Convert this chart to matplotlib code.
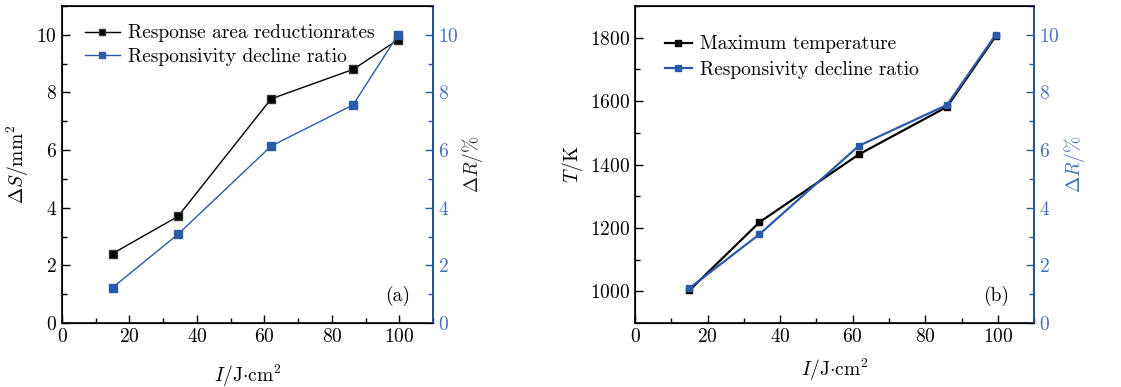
import numpy as np
import matplotlib
matplotlib.use('Agg')
import matplotlib.pyplot as plt
from matplotlib.ticker import MultipleLocator

plt.rcParams['font.family'] = 'serif'
plt.rcParams['font.serif'] = ['cmr10', 'DejaVu Serif']
plt.rcParams['mathtext.fontset'] = 'cm'
plt.rcParams['axes.formatter.use_mathtext'] = True
plt.rcParams['font.size'] = 14

# fluence I (J/cm^2)
fluence_a = [15.0, 34.4, 62.0, 86.3, 99.6]
fluence_b = [15.0, 34.3, 61.7, 86.0, 99.4]

# panel (a): response area reduction, responsivity decline
area_drop = [2.41, 3.70, 7.78, 8.80, 9.83]
resp_drop_a = [1.23, 3.08, 6.14, 7.57, 10.0]

# panel (b): maximum temperature, responsivity decline
max_temp = [1003, 1218, 1432, 1582, 1805]
resp_drop_b = [1.21, 3.08, 6.15, 7.57, 10.0]

blue = '#2b5aa8'
blue_txt = '#4470bb'

fig = plt.figure(figsize=(11.21, 3.87), dpi=100)
ax_a = fig.add_axes([0.0553, 0.1654, 0.331, 0.819])
ax_b = fig.add_axes([0.5665, 0.1654, 0.356, 0.819])


def style_axes(ax, ax2, xpad):
    ax.set_xlim(0, 110)
    ax.xaxis.set_major_locator(MultipleLocator(20))
    ax.xaxis.set_minor_locator(MultipleLocator(10))
    ax.tick_params(which='both', direction='in', top=False, right=False)
    ax.tick_params(which='major', length=6, width=1)
    ax.tick_params(which='minor', length=3.5, width=1)
    for s in ax.spines.values():
        s.set_linewidth(1.2)
    ax.set_xlabel(r'$I/\mathrm{J{\cdot}cm^2}$', labelpad=xpad)
    ax2.set_ylim(0, 11)
    ax2.yaxis.set_major_locator(MultipleLocator(2))
    ax2.yaxis.set_minor_locator(MultipleLocator(1))
    ax2.tick_params(which='both', direction='in', colors=blue, labelcolor=blue_txt)
    ax2.tick_params(which='major', length=6, width=1)
    ax2.tick_params(which='minor', length=3.5, width=1)
    ax2.spines['right'].set_color(blue)
    ax2.spines['right'].set_linewidth(1.2)


# (a)
ax_a2 = ax_a.twinx()
style_axes(ax_a, ax_a2, 12)
ax_a.set_ylim(0, 11)
ax_a.yaxis.set_major_locator(MultipleLocator(2))
ax_a.yaxis.set_minor_locator(MultipleLocator(1))
la, = ax_a.plot(fluence_a, area_drop, color='black', lw=1, marker='s', ms=6,
                mec='#333333', mfc='black', label='Response area reductionrates')
lb, = ax_a2.plot(fluence_a, resp_drop_a, color=blue, lw=1, marker='s', ms=6,
                 mec=blue, mfc=blue, label='Responsivity decline ratio')
ax_a.set_ylabel(r'$\Delta S/\mathrm{mm}^2$')
ax_a2.set_ylabel(r'$\Delta R/\%$', color='#222222', labelpad=1)
ax_a.legend(handles=[la, lb], loc='upper left', frameon=False,
            bbox_to_anchor=(0.025, 0.985), handlelength=1.8, borderaxespad=0.3,
            labelspacing=0.3, handletextpad=0.4, markerscale=0.8)
ax_a.text(0.905, 0.085, '(a)', transform=ax_a.transAxes, ha='center', va='center')

# (b)
ax_b2 = ax_b.twinx()
style_axes(ax_b, ax_b2, 8)
ax_b.set_ylim(900, 1900)
ax_b.yaxis.set_major_locator(MultipleLocator(200))
ax_b.yaxis.set_minor_locator(MultipleLocator(100))
lc, = ax_b.plot(fluence_b, max_temp, color='black', lw=1.6, marker='s', ms=5,
                mec='black', mfc='black', label='Maximum temperature')
ld, = ax_b2.plot(fluence_b, resp_drop_b, color=blue, lw=1.6, marker='s', ms=5,
                 mec=blue, mfc=blue, label='Responsivity decline ratio')
ax_b.set_ylabel(r'$T/\mathrm{K}$')
ax_b2.set_ylabel(r'$\Delta R/\%$', color=blue_txt, labelpad=2)
ax_b.legend(handles=[lc, ld], loc='upper left', frameon=False,
            bbox_to_anchor=(0.04, 0.95), handlelength=1.4, borderaxespad=0.3,
            labelspacing=0.4, handletextpad=0.4)
ax_b.text(0.905, 0.085, '(b)', transform=ax_b.transAxes, ha='center', va='center')

fig.savefig('out.png', dpi=100)
